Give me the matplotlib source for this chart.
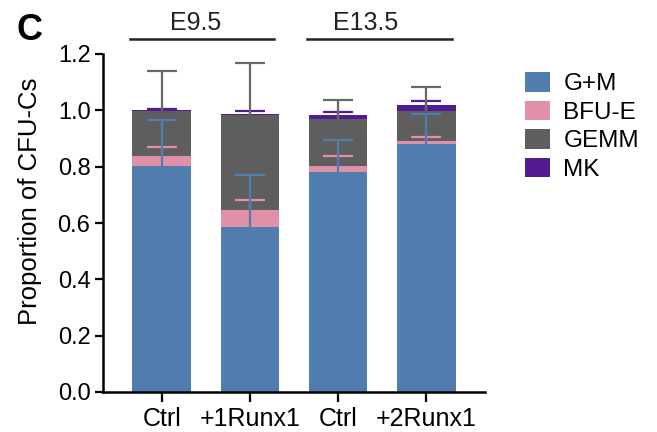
import matplotlib.pyplot as plt
import numpy as np
from matplotlib.patches import Patch

plt.rcParams['font.family'] = ['Liberation Sans', 'DejaVu Sans']

# Колонии по типам (доли), средние и верхние ошибки
conditions = ["Ctrl", "+1Runx1", "Ctrl", "+2Runx1"]
stages = ["E9.5", "E13.5"]
colony_types = ["G+M", "BFU-E", "GEMM", "MK"]

gm = [0.802, 0.586, 0.781, 0.880]
gm_err = [0.162, 0.185, 0.112, 0.106]
bfue = [0.036, 0.060, 0.021, 0.011]
bfue_err = [0.033, 0.034, 0.035, 0.015]
gemm = [0.160, 0.337, 0.167, 0.107]
gemm_err = [0.141, 0.186, 0.067, 0.085]
mk = [0.002, 0.005, 0.014, 0.021]
mk_err = [0.005, 0.008, 0.010, 0.013]

colors = ["#507DAE", "#E091A8", "#5E5E5E", "#521B92"]
err_colors = ["#507DAE", "#E091A8", "#686868", "#521B92"]

fig = plt.figure(figsize=(6.57, 4.32), dpi=100)
ax = fig.add_axes([103 / 657, 40 / 432, (485 - 103) / 657, (392 - 54) / 432])

x = np.arange(len(conditions))
width = 0.67
series = [(gm, gm_err), (bfue, bfue_err), (gemm, gemm_err), (mk, mk_err)]

bottom = np.zeros(len(conditions))
tops = []
for (vals, errs), c in zip(series, colors):
    vals = np.array(vals)
    ax.bar(x, vals, width, bottom=bottom, color=c, zorder=2)
    bottom = bottom + vals
    tops.append(bottom.copy())

# Ошибки только вверх, от верхней границы каждого сегмента
order = [1, 3, 2, 0]
for z, i in enumerate(order):
    errs = np.array(series[i][1])
    _, caps, _ = ax.errorbar(x, tops[i], yerr=[np.zeros_like(errs), errs],
                             fmt='none', ecolor=err_colors[i], elinewidth=1.6,
                             capsize=11, capthick=1.6, zorder=3 + z)
    caps[0].set_visible(False)  # нижний колпачок не нужен

ax.set_xlim(-0.67, 3.67)
ax.set_ylim(0, 1.2)
ax.set_yticks(np.arange(0, 1.21, 0.2))
ax.set_yticklabels([f"{v:.1f}" for v in np.arange(0, 1.21, 0.2)])
ax.set_xticks(x)
ax.set_xticklabels(conditions)
ax.tick_params(axis='y', labelsize=17, width=1.6, length=6, pad=3)
ax.tick_params(axis='x', labelsize=18, width=1.6, length=7, pad=4)
ax.set_ylabel("Proportion of CFU-Cs", fontsize=18.5)
ax.yaxis.set_label_coords(-0.16, 0.564)

for s in ["top", "right"]:
    ax.spines[s].set_visible(False)
for s in ["left", "bottom"]:
    ax.spines[s].set_linewidth(1.8)

# Подписи групп с линиями над столбцами
group_spans = [(-0.364, 1.273), (1.648, 3.295)]
group_text_x = [0.386, 2.318]
for name, (x0, x1), tx in zip(stages, group_spans, group_text_x):
    ax.plot([x0, x1], [1.252, 1.252], color="#222222", lw=1.8, clip_on=False)
    ax.text(tx, 1.285, name, ha='center', va='baseline', fontsize=18,
            color="#222222", clip_on=False)

fig.text(17 / 657, 1 - 40 / 432, "C", fontsize=26, fontweight='bold',
         ha='left', va='baseline')

handles = [Patch(facecolor=c, edgecolor='none') for c in colors]
fig.legend(handles, colony_types, loc='upper left',
           bbox_to_anchor=(525 / 657, 1 - 72 / 432), frameon=False,
           fontsize=17.5, handlelength=1.03, handleheight=0.86,
           handletextpad=0.55, labelspacing=0.22, borderpad=0, borderaxespad=0)

fig.savefig("out.png", dpi=100)
